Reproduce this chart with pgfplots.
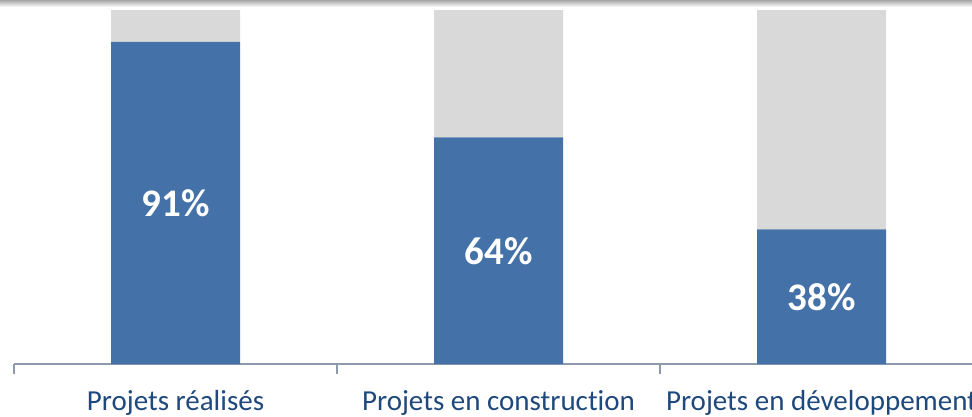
\documentclass[border=0pt]{standalone}
\usepackage{pgfplots}
\pgfplotsset{compat=1.18}
\usepackage{fontspec}
\setmainfont{Carlito}[Ligatures=NoCommon]
\definecolor{barblue}{HTML}{4472A8}
\definecolor{bargray}{HTML}{D9D9D9}
\definecolor{axisgray}{HTML}{8C9AAB}
\definecolor{labelblue}{HTML}{1F497D}
\begin{document}
\begin{tikzpicture}[x=1pt,y=1pt]
\clip (0,0) rectangle (972,416);
\fill[white] (0,0) rectangle (972,416);
\shade[top color=black!35, bottom color=white] (0,409) rectangle (972,416);
\begin{axis}[
    at={(14pt,52pt)}, anchor=south west,
    scale only axis, width=969pt, height=354pt,
    xmin=-0.5, xmax=2.5, ymin=0, ymax=100,
    ybar stacked, bar width=129pt,
    axis x line*=bottom, axis y line=none,
    x axis line style={axisgray, line width=1.2pt, -},
    xtick={0,1,2},
    xticklabels={Projets réalisés, Projets en construction, Projets en développement},
    major x tick style={draw=none},
    minor xtick={-0.5,0.5,1.5,2.5},
    minor tick length=10pt, tick align=outside, xtick pos=bottom,
    minor x tick style={axisgray, line width=1.2pt},
    xticklabel style={font=\fontsize{29}{29}\selectfont, text=labelblue, anchor=base, yshift=-42pt},
]
\addplot[fill=barblue, draw=none,
    nodes near coords={\pgfmathprintnumber[precision=0,assume math mode=true]{\pgfplotspointmeta}\%},
    every node near coord/.append style={anchor=center, text=white,
        font=\fontsize{39}{39}\selectfont\bfseries},
] coordinates {(0,91) (1,64) (2,38)};
\addplot[fill=bargray, draw=none] coordinates {(0,9) (1,36) (2,62)};
\end{axis}
\end{tikzpicture}
\end{document}
